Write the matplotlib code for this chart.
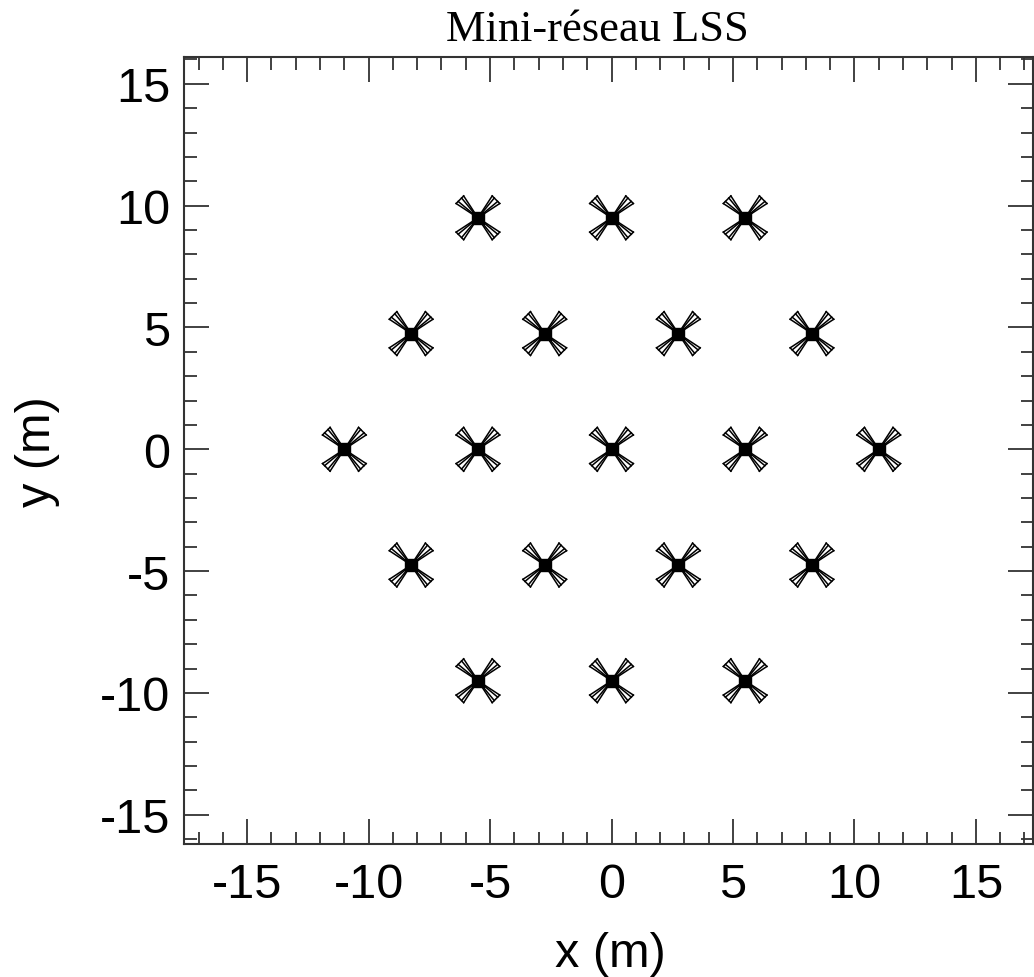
import numpy as np
import matplotlib
matplotlib.use("Agg")
import matplotlib.pyplot as plt
from matplotlib.ticker import MultipleLocator

plt.rcParams["axes.unicode_minus"] = False

# antenna centres (m), hexagonal layout
ant_x = [-5.5, 0.0, 5.5,
         -8.25, -2.75, 2.75, 8.25,
         -11.0, -5.5, 0.0, 5.5, 11.0,
         -8.25, -2.75, 2.75, 8.25,
         -5.5, 0.0, 5.5]
ant_y = [9.5, 9.5, 9.5,
         4.75, 4.75, 4.75, 4.75,
         0.0, 0.0, 0.0, 0.0, 0.0,
         -4.75, -4.75, -4.75, -4.75,
         -9.5, -9.5, -9.5]

x_ticks = [-15, -10, -5, 0, 5, 10, 15]
y_ticks = [-15, -10, -5, 0, 5, 10, 15]

fig = plt.figure(figsize=(10.34, 9.78), dpi=100)
ax = fig.add_axes([184/1034, 1 - 845/978, (1033-184)/1034, (845-58)/978])

arm_len = 1.05
half_w = 0.22
for cx, cy in zip(ant_x, ant_y):
    for ang in [45, 135, 225, 315]:
        a = np.deg2rad(ang)
        d = np.array([np.cos(a), np.sin(a)])
        p = np.array([-d[1], d[0]])
        tip = np.array([cx, cy]) + d * arm_len
        # butterfly arm: fan of wires from the centre to the tip edge
        for s in [-1, -0.45, 0.45, 1]:
            q = tip + p * half_w * s
            ax.plot([cx, q[0]], [cy, q[1]], color="black", lw=1.1)
        e1 = tip + p * half_w
        e2 = tip - p * half_w
        ax.plot([e1[0], e2[0]], [e1[1], e2[1]], color="black", lw=1.1)
ax.plot(ant_x, ant_y, "s", color="black", ms=9)

ax.set_xlim(-17.6, 17.35)
ax.set_ylim(-16.2, 16.1)
ax.set_xticks(x_ticks)
ax.set_yticks(y_ticks)
ax.xaxis.set_minor_locator(MultipleLocator(1))
ax.yaxis.set_minor_locator(MultipleLocator(1))
ax.tick_params(which="both", direction="in", top=True, right=True,
               color="#333333", labelsize=35)
ax.tick_params(which="major", length=18, width=1.3)
ax.tick_params(which="minor", length=9, width=1.3)
ax.tick_params(axis="x", which="major", pad=13)
ax.tick_params(axis="y", which="major", pad=10)
for lab in ax.get_xticklabels() + ax.get_yticklabels():
    lab.set_family("Liberation Sans")
for sp in ax.spines.values():
    sp.set_linewidth(1.5)
    sp.set_color("#333333")

fig.text(610/1034, 1 - 955/978, "x (m)", ha="center", va="center",
         fontsize=35, family="Liberation Sans")
fig.text(37/1034, 1 - 452/978, "y (m)", ha="center", va="center",
         rotation=90, fontsize=35, family="Liberation Sans")
fig.text(597/1034, 1 - 30/978, "Mini-réseau LSS", ha="center", va="center",
         fontsize=32, family="Liberation Serif")

fig.savefig("out.png", dpi=100)
